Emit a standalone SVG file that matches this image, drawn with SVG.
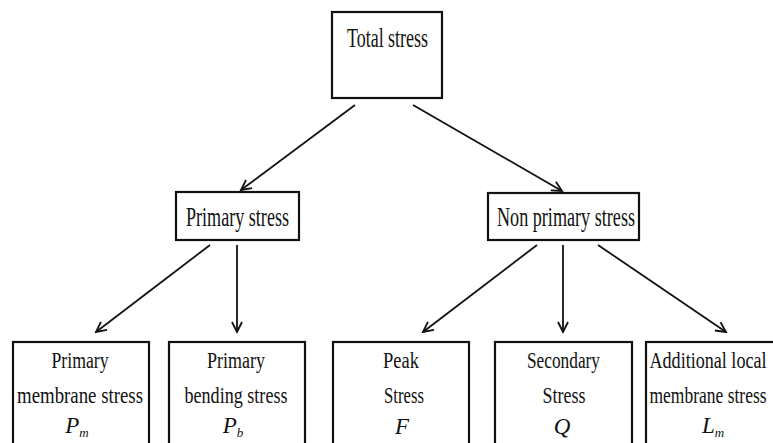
<svg xmlns="http://www.w3.org/2000/svg" width="773" height="443" viewBox="0 0 773 443">
<style>
  .box { fill: #fff; stroke: #111; stroke-width: 2.2; }
  .t { font-family: 'Liberation Serif', 'Times New Roman', 'DejaVu Serif', serif; fill: #111; text-anchor: middle; }
  .big { font-size: 27px; }
  .sm { font-size: 23px; }
  .var { font-family: 'Liberation Serif', 'Times New Roman', 'DejaVu Serif', serif; font-style: italic; font-size: 23px; fill: #111; text-anchor: middle; }
  .sub { font-size: 13px; }
  .conn { stroke: #111; stroke-width: 1.8; fill: none; marker-end: url(#arr); }
</style>
<defs>
  <marker id="arr" markerWidth="14" markerHeight="14" viewBox="0 0 14 14" refX="12" refY="7" orient="auto" markerUnits="userSpaceOnUse">
    <path d="M2,2 L12,7 L2,12" fill="none" stroke="#111" stroke-width="1.8"/>
  </marker>
</defs>
<rect width="773" height="443" fill="#fff"/>

<g id="connectors">
  <line class="conn" x1="355" y1="105" x2="241" y2="190"/>
  <line class="conn" x1="413" y1="105" x2="562" y2="191"/>
  <line class="conn" x1="210" y1="245" x2="96" y2="332"/>
  <line class="conn" x1="237" y1="245" x2="237" y2="332"/>
  <line class="conn" x1="537" y1="245" x2="423" y2="332"/>
  <line class="conn" x1="563" y1="245" x2="563" y2="332"/>
  <line class="conn" x1="598" y1="245" x2="726" y2="332"/>
</g>

<g id="total">
  <rect class="box" x="332" y="12" width="110" height="86"/>
  <text class="t big" x="387.5" y="47" textLength="81" lengthAdjust="spacingAndGlyphs">Total stress</text>
</g>

<g id="primary">
  <rect class="box" x="176" y="192" width="123" height="48"/>
  <text class="t big" x="237.5" y="226" textLength="103" lengthAdjust="spacingAndGlyphs">Primary stress</text>
</g>

<g id="nonprimary">
  <rect class="box" x="488" y="193" width="151" height="47"/>
  <text class="t big" x="566" y="226" textLength="138" lengthAdjust="spacingAndGlyphs">Non primary stress</text>
</g>

<g id="pm">
  <rect class="box" x="13" y="342" width="136" height="120"/>
  <text class="t sm" x="80" y="368" textLength="57" lengthAdjust="spacingAndGlyphs">Primary</text>
  <text class="t sm" x="80" y="403" textLength="126" lengthAdjust="spacingAndGlyphs">membrane stress</text>
  <text class="var" x="77" y="433">P<tspan class="sub" dy="4">m</tspan></text>
</g>

<g id="pb">
  <rect class="box" x="169" y="342" width="136" height="120"/>
  <text class="t sm" x="236" y="368" textLength="58" lengthAdjust="spacingAndGlyphs">Primary</text>
  <text class="t sm" x="236" y="403" textLength="103" lengthAdjust="spacingAndGlyphs">bending stress</text>
  <text class="var" x="233" y="433">P<tspan class="sub" dy="4">b</tspan></text>
</g>

<g id="peak">
  <rect class="box" x="333" y="342" width="136" height="120"/>
  <text class="t sm" x="401" y="368" textLength="36" lengthAdjust="spacingAndGlyphs">Peak</text>
  <text class="t sm" x="404" y="403" textLength="40" lengthAdjust="spacingAndGlyphs">Stress</text>
  <text class="var" x="402" y="434">F</text>
</g>

<g id="secondary">
  <rect class="box" x="495" y="342" width="137" height="120"/>
  <text class="t sm" x="563.5" y="368" textLength="73" lengthAdjust="spacingAndGlyphs">Secondary</text>
  <text class="t sm" x="564" y="403" textLength="43" lengthAdjust="spacingAndGlyphs">Stress</text>
  <text class="var" x="562" y="434">Q</text>
</g>

<g id="local">
  <rect class="box" x="646" y="342" width="140" height="120"/>
  <text class="t sm" x="708" y="368" textLength="117" lengthAdjust="spacingAndGlyphs">Additional local</text>
  <text class="t sm" x="708" y="403" textLength="117" lengthAdjust="spacingAndGlyphs">membrane stress</text>
  <text class="var" x="713" y="433">L<tspan class="sub" dy="4">m</tspan></text>
</g>
</svg>
